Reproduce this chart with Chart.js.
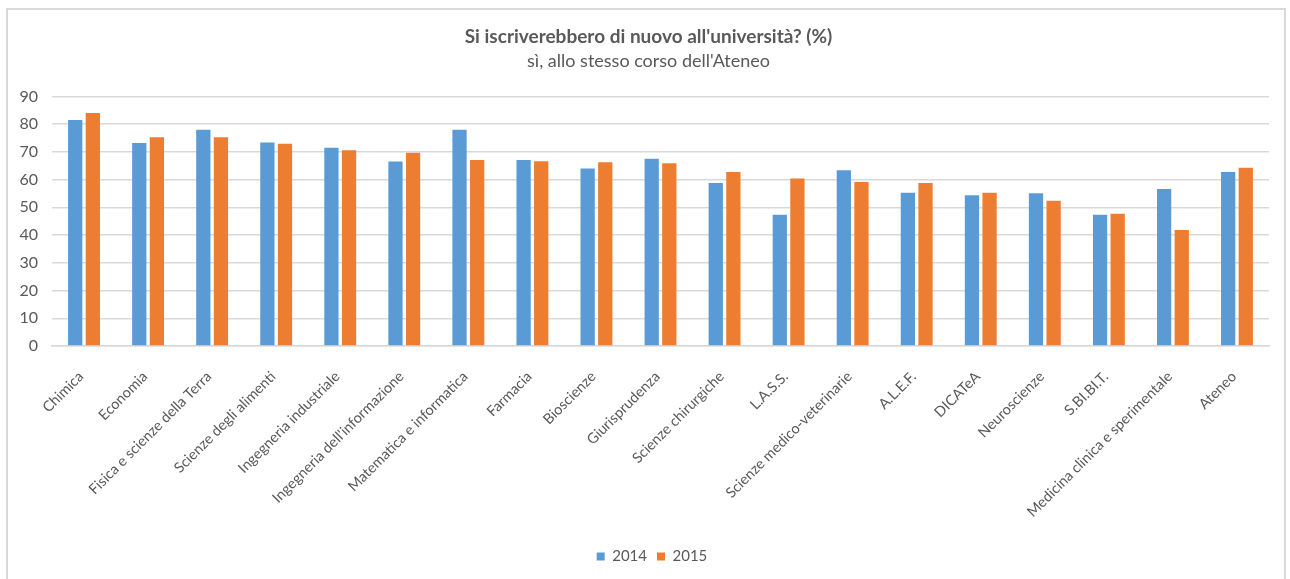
<!DOCTYPE html>
<html>
<head>
<meta charset="utf-8">
<script src="https://cdn.jsdelivr.net/npm/chart.js@4"></script>
<style>
  html, body { margin: 0; padding: 0; background: #fff; }
  #wrap { position: relative; width: 1290px; height: 579px; overflow: hidden; }
  #frame { position: absolute; left: 6px; top: 8px; width: 1280px; height: 600px;
           border: 2px solid #d9d9d9; box-sizing: border-box; }
  canvas { position: absolute; left: 0; top: 0; }
</style>
</head>
<body>
<div id="wrap">
  <div id="frame"></div>
  <canvas id="chartIscrizione" width="1290" height="579"></canvas>
</div>
<script>
// Data
var categorie = ['Chimica', 'Economia', 'Fisica e scienze della Terra', 'Scienze degli alimenti',
    'Ingegneria industriale', "Ingegneria dell'informazione", 'Matematica e informatica', 'Farmacia',
    'Bioscienze', 'Giurisprudenza', 'Scienze chirurgiche', 'L.A.S.S.', 'Scienze medico-veterinarie',
    'A.L.E.F.', 'DICATeA', 'Neuroscienze', 'S.BI.BI.T.', 'Medicina clinica e sperimentale', 'Ateneo'];
var valori2014 = [81.5, 73.2, 78.0, 73.4, 71.5, 66.5, 78.0, 67.1, 64.0, 67.5, 58.8, 47.3, 63.4, 55.3, 54.4, 55.1, 47.3, 56.6, 62.7];
var valori2015 = [84.0, 75.3, 75.3, 72.9, 70.6, 69.7, 67.1, 66.6, 66.3, 65.9, 62.7, 60.4, 59.1, 58.8, 55.3, 52.4, 47.7, 41.8, 64.3];
var tickY = [0, 10, 20, 30, 40, 50, 60, 70, 80, 90];

var grigio = '#595959';
Chart.defaults.font.family = 'Lato, "Open Sans", sans-serif';
Chart.defaults.color = grigio;

var data = {
    labels: categorie,
    datasets: [{
        label: '2014',
        data: valori2014,
        backgroundColor: '#5b9bd5'
    }, {
        label: '2015',
        data: valori2015,
        backgroundColor: '#ed7d31'
    }]
};

// sposta titoli e legenda un po' a destra, come nell'originale
var spostaBlocchi = {
    id: 'spostaBlocchi',
    afterLayout: function (chart) {
        chart.boxes.forEach(function (b) {
            if (b === chart.legend) {
                b.left += 27;
            } else if (b.position === 'top' && b.options && 'text' in b.options) {
                b.left += 20;
            }
        });
    }
};

var options = {
    responsive: false,
    animation: false,
    layout: { padding: { left: 8, right: 21, top: 0, bottom: 5 } },
    datasets: { bar: { categoryPercentage: 0.55, barPercentage: 0.81 } },
    plugins: {
        title: {
            display: true,
            text: "Si iscriverebbero di nuovo all'università? (%)",
            font: { size: 19, weight: 'bold' },
            padding: { top: 25, bottom: 3 }
        },
        subtitle: {
            display: true,
            text: "sì, allo stesso corso dell'Ateneo",
            font: { size: 18 },
            padding: { top: 0, bottom: 24 }
        },
        legend: {
            position: 'bottom',
            labels: { boxWidth: 8, boxHeight: 8, font: { size: 15 }, padding: 10 }
        },
        tooltip: { enabled: false }
    },
    scales: {
        x: {
            grid: { display: false, drawTicks: false },
            border: { color: '#d9d9d9', width: 1.5 },
            ticks: { minRotation: 45, maxRotation: 45, font: { size: 14.5 }, padding: 22, labelOffset: -3, autoSkip: false },
            afterFit: function (s) { s.height = 193; }
        },
        y: {
            min: 0,
            max: 90,
            grid: { color: '#d9d9d9', lineWidth: 1.5, drawTicks: false },
            border: { display: false },
            afterBuildTicks: function (s) { s.ticks = tickY.map(function (v) { return { value: v }; }); },
            ticks: { font: { size: 16 }, padding: 14 },
            afterFit: function (s) { s.width = 44; }
        }
    }
};

var ctx = document.getElementById('chartIscrizione').getContext('2d');
var grafico = new Chart(ctx, { type: 'bar', data: data, options: options, plugins: [spostaBlocchi] });
</script>
</body>
</html>
